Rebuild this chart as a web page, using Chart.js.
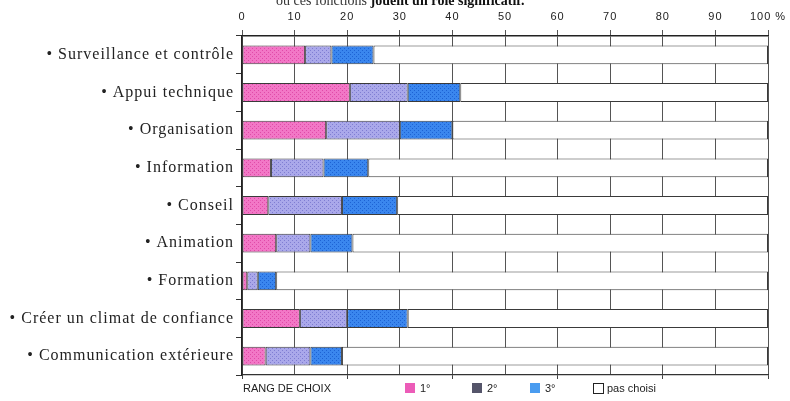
<!DOCTYPE html>
<html>
<head>
<meta charset="utf-8">
<script src="https://cdn.jsdelivr.net/npm/chart.js@4"></script>
<style>
  body { margin: 0; background: #fff; }
  #wrap { position: relative; width: 790px; height: 401px; overflow: hidden; }
  #titre { position: absolute; left: 276px; top: -7px; font: 14px "Liberation Serif", serif; color: #333; white-space: nowrap; }
  #titre b { color: #111; }
  .leg { position: absolute; top: 382px; font: 11px "Liberation Sans", Arial, sans-serif; color: #222; }
  .sw { position: absolute; top: 383px; width: 10px; height: 10px; }
</style>
</head>
<body>
<div id="wrap">
  <canvas id="chart" width="790" height="401"></canvas>
  <div id="titre">où ces fonctions <b>jouent un rôle significatif.</b></div>
  <div class="leg" style="left:243px">RANG DE CHOIX</div>
  <div class="sw" style="left:405px;background:#ec5cb8"></div>
  <div class="leg" style="left:420px">1°</div>
  <div class="sw" style="left:472px;background:#55556a"></div>
  <div class="leg" style="left:487px">2°</div>
  <div class="sw" style="left:530px;background:#4a9cf0"></div>
  <div class="leg" style="left:545px">3°</div>
  <div class="sw" style="left:593px;width:9px;height:9px;border:1px solid #222;background:#fff"></div>
  <div class="leg" style="left:607px">pas choisi</div>
</div>
<script>
// categories et valeurs (% des réponses)
const categories = [
  "• Surveillance et contrôle",
  "• Appui technique",
  "• Organisation",
  "• Information",
  "• Conseil",
  "• Animation",
  "• Formation",
  "• Créer un climat de confiance",
  "• Communication extérieure"
];
const rang1 = [12, 20.5, 16, 5.5, 5, 6.5, 1, 11, 4.5];
const rang2 = [5, 11, 14, 10, 14, 6.5, 2, 9, 8.5];
const rang3 = [8, 10, 10, 8.5, 10.5, 8, 3.5, 11.5, 6];
const pasChoisi = [75, 58.5, 60, 76, 70.5, 79, 93.5, 68.5, 81];
const xTicks = [0, 10, 20, 30, 40, 50, 60, 70, 80, 90, 100];

// petite trame pointillée comme sur le document imprimé
function trame(fond, point) {
  const c = document.createElement('canvas');
  c.width = 4; c.height = 4;
  const g = c.getContext('2d');
  g.fillStyle = fond;
  g.fillRect(0, 0, 4, 4);
  g.fillStyle = point;
  g.fillRect(0, 0, 1, 1);
  g.fillRect(2, 2, 1, 1);
  return g.createPattern(c, 'repeat');
}

// texte un peu espacé comme sur le scan
const espacement = {
  id: 'espacement',
  beforeDraw: chart => { chart.ctx.letterSpacing = '1px'; }
};

const ctx = document.getElementById('chart').getContext('2d');
const rose = trame('#f277c6', '#e04aa8');
const violet = trame('#aaa8ea', '#7f7dd2');
const bleu = trame('#3a86ee', '#1d62d4');

new Chart(ctx, {
  type: 'bar',
  data: {
    labels: categories,
    datasets: [
      { label: '1°', data: rang1, backgroundColor: rose },
      { label: '2°', data: rang2, backgroundColor: violet },
      { label: '3°', data: rang3, backgroundColor: bleu },
      { label: 'pas choisi', data: pasChoisi, backgroundColor: '#ffffff' }
    ].map(d => Object.assign(d, {
      borderColor: '#3a3a3a',
      borderWidth: 1,
      borderSkipped: false,
      categoryPercentage: 0.5,
      barPercentage: 1
    }))
  },
  plugins: [espacement],
  options: {
    indexAxis: 'y',
    responsive: false,
    animation: false,
    layout: { padding: { top: 0, right: 22, bottom: 26, left: 0 } },
    plugins: {
      legend: { display: false },
      tooltip: { enabled: false }
    },
    scales: {
      x: {
        position: 'top',
        stacked: true,
        min: 0,
        max: 100,
        afterBuildTicks: s => { s.ticks = xTicks.map(v => ({ value: v })); },
        afterFit: s => { s.height = 36; },
        grid: { color: '#555', lineWidth: 1, tickLength: 6 },
        border: { color: '#222', width: 1.5 },
        ticks: {
          padding: 6,
          color: '#222',
          font: { family: 'Liberation Sans', size: 11 },
          callback: v => v === 100 ? '100 %' : v
        }
      },
      x2: {
        type: 'linear',
        position: 'bottom',
        min: 0,
        max: 100,
        afterFit: s => { s.height = 0; },
        grid: { drawOnChartArea: false, color: '#444', tickLength: 4 },
        border: { color: '#333', width: 1.2 },
        ticks: { display: false, stepSize: 20 }
      },
      y: {
        stacked: true,
        afterFit: s => { s.width = 242; },
        grid: { drawOnChartArea: false, offset: true, color: '#333', tickLength: 6 },
        border: { color: '#222', width: 1.5 },
        ticks: {
          padding: 2,
          color: '#222',
          font: { family: 'Liberation Serif', size: 16 }
        }
      }
    }
  }
});
</script>
</body>
</html>
